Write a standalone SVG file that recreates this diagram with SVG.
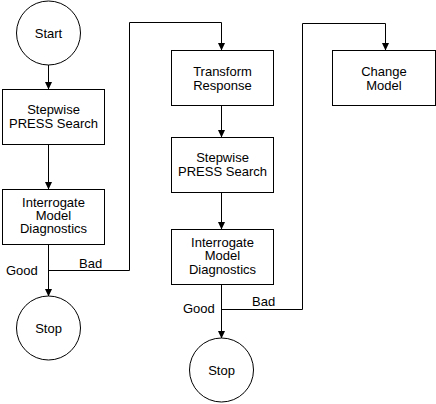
<svg xmlns="http://www.w3.org/2000/svg" width="436" height="404" viewBox="0 0 436 404">
<style>
.n{fill:#fff;stroke:#000;stroke-width:1}
.t{font-family:"Liberation Sans",Arial,sans-serif;font-size:13px;fill:#000;text-anchor:middle}
.l{font-family:"Liberation Sans",Arial,sans-serif;font-size:13px;fill:#000}
.c{fill:none;stroke:#000;stroke-width:1}
</style>
<defs>
<marker id="a" markerWidth="8" markerHeight="8" refX="7" refY="4" orient="auto" markerUnits="userSpaceOnUse">
<path d="M0,0.5 L7.5,4 L0,7.5 z" fill="#000"/>
</marker>
</defs>
<rect width="436" height="404" fill="#fff"/>
<g id="connectors">
<path class="c" d="M48.5,65 V89" marker-end="url(#a)"/>
<path class="c" d="M48.5,144 V189" marker-end="url(#a)"/>
<path class="c" d="M48.5,244 V296" marker-end="url(#a)"/>
<path class="c" d="M48.5,270.5 H129.5 V22.5 H221.5 V50" marker-end="url(#a)"/>
<path class="c" d="M221.5,106 V137" marker-end="url(#a)"/>
<path class="c" d="M221.5,193 V229" marker-end="url(#a)"/>
<path class="c" d="M221.5,284 V338" marker-end="url(#a)"/>
<path class="c" d="M221.5,309.5 H302.5 V23.5 H385.5 V50" marker-end="url(#a)"/>
<text class="l" x="6" y="275">Good</text>
<text class="l" x="79" y="268">Bad</text>
<text class="l" x="183" y="313">Good</text>
<text class="l" x="252" y="306">Bad</text>
</g>
<g id="start">
<circle class="n" cx="48.5" cy="33" r="32"/>
<text class="t" x="48.5" y="37.5">Start</text>
</g>
<g id="search1">
<rect class="n" x="2.5" y="89.5" width="102" height="55"/>
<text class="t" x="53.5" y="113.5">Stepwise</text>
<text class="t" x="53.5" y="127.5">PRESS Search</text>
</g>
<g id="diag1">
<rect class="n" x="2.5" y="189.5" width="102" height="55"/>
<text class="t" x="53.5" y="206.5">Interrogate</text>
<text class="t" x="53.5" y="219.5">Model</text>
<text class="t" x="53.5" y="232.5">Diagnostics</text>
</g>
<g id="stop1">
<circle class="n" cx="48.5" cy="328" r="32"/>
<text class="t" x="48.5" y="332.5">Stop</text>
</g>
<g id="transform">
<rect class="n" x="171.5" y="50.5" width="102" height="55"/>
<text class="t" x="222.5" y="76">Transform</text>
<text class="t" x="222.5" y="89.5">Response</text>
</g>
<g id="search2">
<rect class="n" x="171.5" y="137.5" width="102" height="55"/>
<text class="t" x="222.5" y="162">Stepwise</text>
<text class="t" x="222.5" y="176">PRESS Search</text>
</g>
<g id="diag2">
<rect class="n" x="171.5" y="229.5" width="102" height="55"/>
<text class="t" x="222.5" y="246.5">Interrogate</text>
<text class="t" x="222.5" y="259.5">Model</text>
<text class="t" x="222.5" y="273.5">Diagnostics</text>
</g>
<g id="stop2">
<circle class="n" cx="221.5" cy="370" r="32"/>
<text class="t" x="221.5" y="374.5">Stop</text>
</g>
<g id="change">
<rect class="n" x="332.5" y="50.5" width="103" height="55"/>
<text class="t" x="384" y="76">Change</text>
<text class="t" x="384" y="89.5">Model</text>
</g>
</svg>
